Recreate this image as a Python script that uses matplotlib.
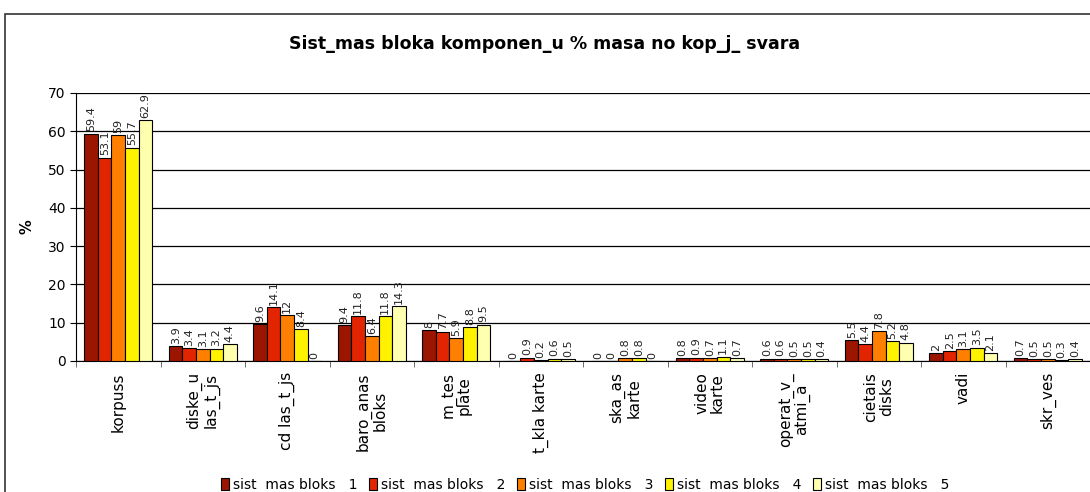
import matplotlib.pyplot as plt
from matplotlib.patches import Rectangle
import numpy as np

categories = ['korpuss', 'diske_u\nlas_t_js', 'cd las_t_js', 'baro_anas\nbloks', 'm_tes\nplate',
              't_kla karte', 'ska_as\nkarte', 'video\nkarte', 'operat_v_\natmi_a', 'cietais\ndisks',
              'vadi', 'skr_ves']
s1 = [59.4, 3.9, 9.6, 9.4, 8, 0, 0, 0.8, 0.6, 5.5, 2, 0.7]
s2 = [53.1, 3.4, 14.1, 11.8, 7.7, 0.9, 0, 0.9, 0.6, 4.4, 2.5, 0.5]
s3 = [59, 3.1, 12, 6.4, 5.9, 0.2, 0.8, 0.7, 0.5, 7.8, 3.1, 0.5]
s4 = [55.7, 3.2, 8.4, 11.8, 8.8, 0.6, 0.8, 1.1, 0.5, 5.2, 3.5, 0.3]
s5 = [62.9, 4.4, 0, 14.3, 9.5, 0.5, 0, 0.7, 0.4, 4.8, 2.1, 0.4]
series_names = ['sist  mas bloks   1', 'sist  mas bloks   2', 'sist  mas bloks   3',
                'sist  mas bloks   4', 'sist  mas bloks   5']
colors = ['#9c1500', '#e32400', '#ff8000', '#fff200', '#ffffb0']

fig = plt.figure(figsize=(10.9, 4.92), dpi=100)
fig.patches.append(Rectangle((5/1090, -0.1), 1.2, 1 - 14/492 + 0.1, transform=fig.transFigure,
                             fill=False, edgecolor='#333333', linewidth=1.2))
ax = fig.add_axes([76/1090, 1 - 361/492, 1014/1090, 268/492])

x = np.arange(len(categories))
w = 0.16
all_series = [s1, s2, s3, s4, s5]
for i, vals in enumerate(all_series):
    pos = x + (i - 2) * w
    ax.bar(pos, vals, width=w, color=colors[i], edgecolor='black', linewidth=0.8,
           label=series_names[i], zorder=3)
    for p, v in zip(pos, vals):
        ax.text(p, v + 0.6, f'{v:g}', rotation=90, ha='center', va='bottom',
                fontsize=8, color='#222222', zorder=4)

ax.set_xlim(-0.5, len(categories) - 0.5)
ax.set_ylim(0, 70)
ax.set_yticks(range(0, 71, 10))
ax.yaxis.grid(True, color='black', linewidth=0.9, zorder=0)
ax.set_axisbelow(True)
ax.tick_params(axis='y', labelsize=10, direction='out', length=4)

ax.set_xticks(x)
ax.set_xticklabels(categories, rotation=90, fontsize=11, linespacing=1.05,
                   multialignment='center', va='top')
ax.tick_params(axis='x', length=0, pad=8)
ax.set_xticks(np.arange(-0.5, len(categories) + 0.5, 1), minor=True)
ax.tick_params(axis='x', which='minor', length=4, color='#555555')

for s in ['top', 'right']:
    ax.spines[s].set_visible(False)
ax.spines['left'].set_color('black')
ax.spines['bottom'].set_color('black')

ax.set_ylabel('%', fontsize=10.5, fontweight='bold', labelpad=10)
fig.text(545/1090, 1 - 44/492, 'Sist_mas bloka komponen_u % masa no kop_j_ svara',
         ha='center', va='center', fontsize=12.5, fontweight='bold')

fig.legend(loc='center', bbox_to_anchor=(585/1090, 1 - 485/492), ncol=5, frameon=False,
           fontsize=10, handlelength=0.6, handleheight=1.0, handletextpad=0.3,
           columnspacing=0.8)

fig.savefig('out.png', dpi=100)
